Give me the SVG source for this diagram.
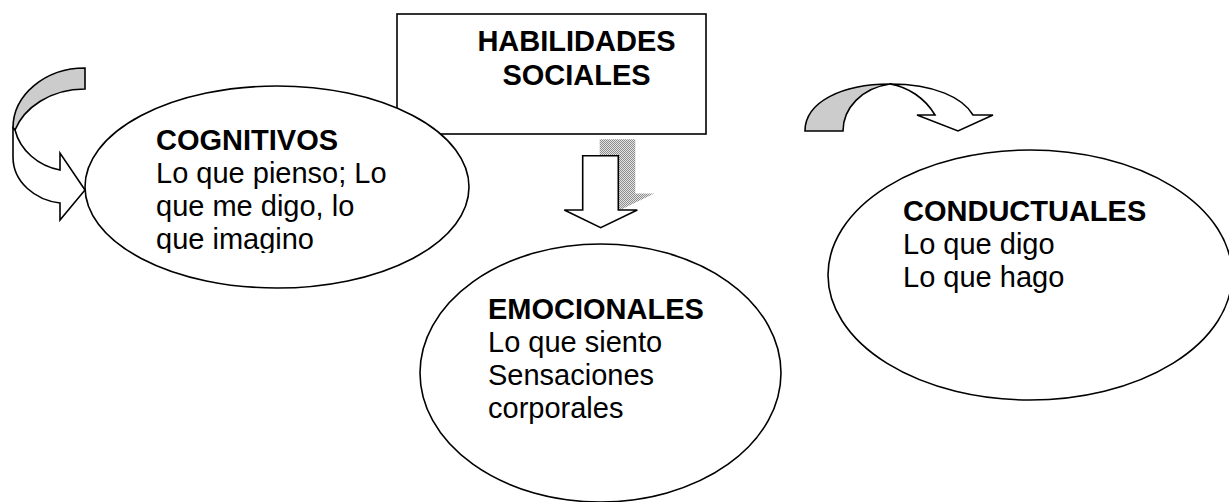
<svg xmlns="http://www.w3.org/2000/svg" width="1229" height="502" viewBox="0 0 1229 502">
<style>
.ln{stroke:#000;stroke-width:1.6;fill:#fff;stroke-linejoin:miter}
.gr{stroke:#000;stroke-width:1.6;fill:#cccccc}
.t{font-family:"Liberation Sans",Arial,sans-serif;font-size:29px;fill:#000}
.b{font-weight:bold}
</style>
<defs>
<pattern id="dots" width="2" height="2" patternUnits="userSpaceOnUse">
<rect width="2" height="2" fill="#e4e4e4"/>
<rect width="1" height="1" fill="#8c8c8c"/>
<rect x="1" y="1" width="1" height="1" fill="#8c8c8c"/>
</pattern>
<clipPath id="cogClip"><rect x="100" y="100" width="360" height="153"/></clipPath>
</defs>
<g id="habilidades">
<rect class="ln" x="397" y="14" width="309" height="120" stroke-width="2"/>
<text class="t b" x="576.5" y="51" text-anchor="middle">HABILIDADES</text>
<text class="t b" x="576.5" y="85" text-anchor="middle">SOCIALES</text>
</g>
<g id="connectors">
<g id="arrow-left">
<path class="gr" d="M85,68 C45,68 13,95 13,128 L15,130 C24,108 50,89 85,89 Z"/>
<path class="ln" d="M13,128 L13,157 C13,182 35,200 60,203 L60,220 L85,190 L60,153 L60,170 C38,166 20,150 15,130 Z"/>
</g>
<g id="arrow-down">
<path d="M599.7,139.3 L635.3,139.3 L635.3,193.5 L654.3,193.5 L617.7,211.2 L581.3,193.5 L599.7,193.5 Z" fill="url(#dots)"/>
<path class="ln" d="M582.7,155.7 L618.3,155.7 L618.3,210 L637.3,210 L600.7,227.7 L564.3,210 L582.7,210 Z"/>
</g>
<g id="arrow-right">
<path class="gr" d="M805,131 C805,102 842,84 890,84 C862,88 843,108 843,131 Z"/>
<path class="ln" d="M890,84 C935,84 963,98 973,115 L993,115 L958,131 L917,115 L935,115 C925,98 908,87 890,84 Z"/>
</g>
</g>
<g id="cognitivos">
<ellipse class="ln" cx="277" cy="187" rx="192" ry="101"/>
<g clip-path="url(#cogClip)">
<text class="t b" x="156" y="150">COGNITIVOS</text>
<text class="t" x="156" y="183">Lo que pienso; Lo</text>
<text class="t" x="156" y="216">que me digo, lo</text>
<text class="t" x="156" y="249">que imagino</text>
</g>
</g>
<g id="emocionales">
<ellipse class="ln" cx="600.5" cy="373" rx="180.5" ry="129"/>
<text class="t b" x="488" y="319">EMOCIONALES</text>
<text class="t" x="488" y="352">Lo que siento</text>
<text class="t" x="488" y="385">Sensaciones</text>
<text class="t" x="488" y="418">corporales</text>
</g>
<g id="conductuales">
<ellipse class="ln" cx="1030" cy="275" rx="202" ry="125"/>
<text class="t b" x="903" y="221">CONDUCTUALES</text>
<text class="t" x="903" y="254">Lo que digo</text>
<text class="t" x="903" y="287">Lo que hago</text>
</g>
</svg>
